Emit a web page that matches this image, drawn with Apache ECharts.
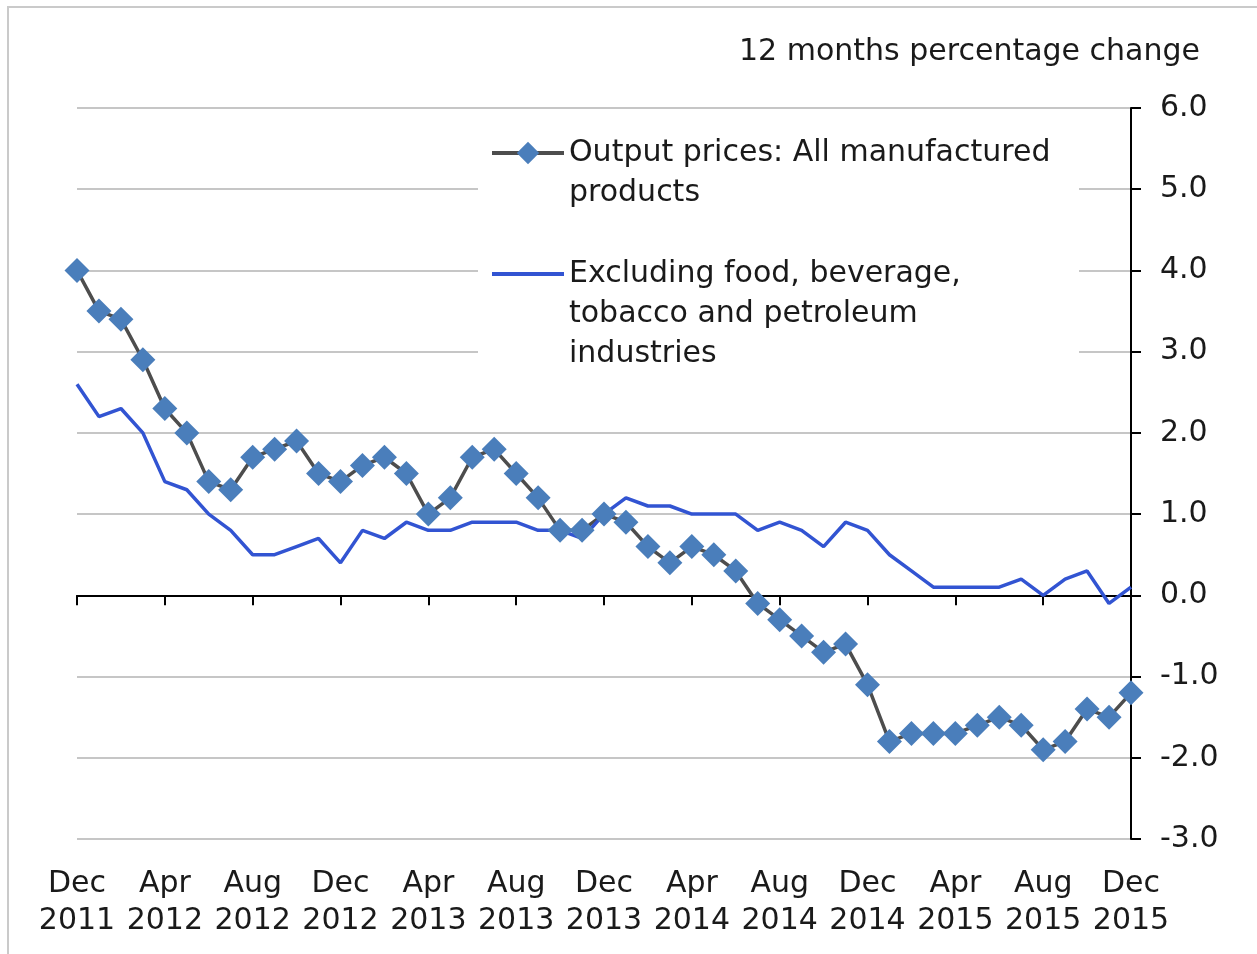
<!DOCTYPE html>
<html>
<head>
<meta charset="utf-8">
<script src="https://cdn.jsdelivr.net/npm/echarts@6/dist/echarts.min.js"></script>
<style>
  body { margin: 0; background: #fff; }
  .box { position: absolute; left: 0; top: 0; width: 1257px; height: 954px; }
  .frame { position: absolute; left: 7px; top: 6px; width: 1260px; height: 960px; border: 2px solid #cacaca; }
</style>
</head>
<body>
<div class="frame"></div>
<div class="box" id="lineChart"></div>
<script>
const months = [
  'Dec 2011', 'Jan 2012', 'Feb 2012', 'Mar 2012', 'Apr 2012', 'May 2012', 'Jun 2012', 'Jul 2012',
  'Aug 2012', 'Sep 2012', 'Oct 2012', 'Nov 2012', 'Dec 2012', 'Jan 2013', 'Feb 2013', 'Mar 2013',
  'Apr 2013', 'May 2013', 'Jun 2013', 'Jul 2013', 'Aug 2013', 'Sep 2013', 'Oct 2013', 'Nov 2013',
  'Dec 2013', 'Jan 2014', 'Feb 2014', 'Mar 2014', 'Apr 2014', 'May 2014', 'Jun 2014', 'Jul 2014',
  'Aug 2014', 'Sep 2014', 'Oct 2014', 'Nov 2014', 'Dec 2014', 'Jan 2015', 'Feb 2015', 'Mar 2015',
  'Apr 2015', 'May 2015', 'Jun 2015', 'Jul 2015', 'Aug 2015', 'Sep 2015', 'Oct 2015', 'Nov 2015',
  'Dec 2015'
]
const allManufactured = [
  4.0, 3.5, 3.4, 2.9, 2.3, 2.0, 1.4, 1.3, 1.7, 1.8, 1.9, 1.5,
  1.4, 1.6, 1.7, 1.5, 1.0, 1.2, 1.7, 1.8, 1.5, 1.2, 0.8, 0.8,
  1.0, 0.9, 0.6, 0.4, 0.6, 0.5, 0.3, -0.1, -0.3, -0.5, -0.7, -0.6,
  -1.1, -1.8, -1.7, -1.7, -1.7, -1.6, -1.5, -1.6, -1.9, -1.8, -1.4, -1.5,
  -1.2
]
const excludingFood = [
  2.6, 2.2, 2.3, 2.0, 1.4, 1.3, 1.0, 0.8, 0.5, 0.5, 0.6, 0.7,
  0.4, 0.8, 0.7, 0.9, 0.8, 0.8, 0.9, 0.9, 0.9, 0.8, 0.8, 0.7,
  1.0, 1.2, 1.1, 1.1, 1.0, 1.0, 1.0, 0.8, 0.9, 0.8, 0.6, 0.9,
  0.8, 0.5, 0.3, 0.1, 0.1, 0.1, 0.1, 0.2, 0.0, 0.2, 0.3, -0.1,
  0.1
]
const nameOne = 'Output prices: All manufactured\nproducts'
const nameTwo = 'Excluding food, beverage,\ntobacco and petroleum\nindustries'

const font = 'DejaVu Sans'
const textColor = '#1a1a1a'
const greyLine = '#4d4d4d'
const diamondBlue = '#4a7ebb'
const lineBlue = '#3254d2'

let myChart = echarts.init(document.getElementById('lineChart'))
myChart.setOption({
  animation: false,
  title: {
    text: '12 months percentage change',
    right: 57,
    top: 37,
    padding: 0,
    textStyle: { fontFamily: font, fontSize: 30, fontWeight: 'normal', color: textColor }
  },
  grid: {
    left: 77,
    right: 126,
    top: 108,
    bottom: 115,
    outerBoundsMode: 'none'
  },
  // white patch behind the legend, cutting the gridlines like the original
  graphic: [{
    type: 'rect',
    z: 1,
    shape: { x: 478, y: 118, width: 601, height: 258 },
    style: { fill: '#fff' }
  }],
  legend: [
    {
      // leading blank line keeps the icon level with the first text line
      data: [nameOne],
      formatter: name => '\n' + name,
      orient: 'vertical',
      left: 490,
      top: 93,
      padding: 0,
      itemWidth: 72,
      itemHeight: 28,
      lineStyle: { width: 4 },
      textStyle: { fontFamily: font, fontSize: 30, color: textColor, lineHeight: 40 }
    },
    {
      data: [nameTwo],
      formatter: name => '\n\n' + name,
      orient: 'vertical',
      left: 490,
      top: 174,
      padding: 0,
      itemWidth: 72,
      itemHeight: 28,
      lineStyle: { width: 4 },
      itemStyle: { color: 'rgba(0,0,0,0)', borderWidth: 0 },
      textStyle: { fontFamily: font, fontSize: 30, color: textColor, lineHeight: 40 }
    }
  ],
  xAxis: [
    {
      type: 'category',
      data: months,
      boundaryGap: false,
      position: 'bottom',
      axisLine: { show: false, onZero: false },
      axisTick: { show: false },
      axisLabel: {
        interval: 3,
        margin: 27,
        fontFamily: font,
        fontSize: 30,
        lineHeight: 37,
        color: textColor,
        formatter: v => v.replace(' ', '\n')
      }
    },
    {
      type: 'category',
      data: months,
      boundaryGap: false,
      position: 'top',
      axisLine: { show: true, onZero: true, lineStyle: { color: '#000', width: 2 } },
      axisTick: { show: true, inside: true, interval: 3, length: 10, lineStyle: { color: '#000', width: 2 } },
      axisLabel: { show: false }
    }
  ],
  yAxis: {
    type: 'value',
    position: 'right',
    min: -3,
    max: 6,
    interval: 1,
    axisLine: { show: true, onZero: false, lineStyle: { color: '#000', width: 2 } },
    axisTick: { show: true, length: 10, lineStyle: { color: '#000', width: 2 } },
    axisLabel: {
      margin: 29,
      padding: [8, 0, 0, 0],
      fontFamily: font,
      fontSize: 30,
      color: textColor,
      formatter: v => v.toFixed(1)
    },
    splitLine: { lineStyle: { color: '#c6c6c6', width: 2 } }
  },
  series: [
    {
      name: nameOne,
      type: 'line',
      data: allManufactured,
      symbol: 'diamond',
      symbolSize: 25,
      showAllSymbol: true,
      itemStyle: { color: diamondBlue },
      lineStyle: { color: greyLine, width: 3.5 },
      z: 3
    },
    {
      name: nameTwo,
      type: 'line',
      data: excludingFood,
      symbol: 'none',
      itemStyle: { color: lineBlue },
      lineStyle: { color: lineBlue, width: 3.5 }
    }
  ]
})
</script>
</body>
</html>
